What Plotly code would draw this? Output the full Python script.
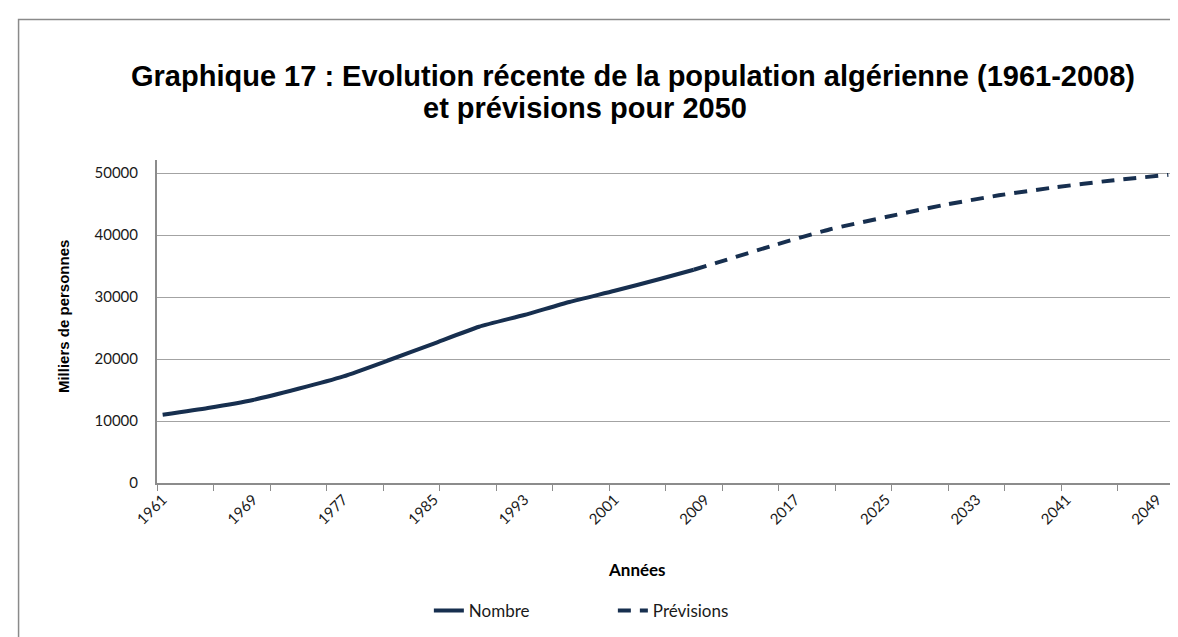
import plotly.graph_objects as go

# ---- data ----
hist_years = [1961, 1965, 1969, 1973, 1977, 1981, 1985, 1989, 1993, 1997, 2001, 2005, 2008]
hist_vals = [11000, 12100, 13400, 15200, 17200, 19800, 22500, 25200, 27100, 29200, 31000, 32900, 34400]

proj_years = [2008, 2010, 2015, 2020, 2025, 2030, 2035, 2040, 2045, 2050]
proj_vals = [34400, 35500, 38300, 40900, 42900, 44800, 46400, 47700, 48800, 49700]

xtick_years = [1961, 1969, 1977, 1985, 1993, 2001, 2009, 2017, 2025, 2033, 2041, 2049]
ytick_vals = [0, 10000, 20000, 30000, 40000, 50000]

title_line1 = "Graphique 17 : Evolution récente de la population algérienne (1961-2008)"
title_line2 = "et prévisions pour 2050"

LINE = "#172F4F"
GRID = "#a3a3a3"
AXIS = "#8c8c8c"
TICKFONT = dict(family="Lato, Open Sans, sans-serif", size=15, color="#1a1a1a")

W, H = 1178, 637
L, R, T, B = 149, 11.5, 152, 162
pw, ph = W - L - R, H - T - B


def px(xp):
    return (xp - L) / pw


def py(yp):
    return (H - B - yp) / ph


fig = go.Figure()
fig.add_trace(go.Scatter(
    x=hist_years, y=hist_vals, mode="lines", name="Nombre",
    line=dict(color=LINE, width=4, shape="spline", smoothing=0.5),
))
fig.add_trace(go.Scatter(
    x=proj_years, y=proj_vals, mode="lines", name="Prévisions",
    line=dict(color=LINE, width=4, dash="13px,9px", shape="spline", smoothing=0.5),
))

fig.update_layout(
    width=W, height=H,
    margin=dict(l=L, r=R, t=T, b=B),
    paper_bgcolor="white", plot_bgcolor="white",
    showlegend=True,
    legend=dict(
        orientation="h", x=px(421), xanchor="left", y=py(603), yanchor="middle",
        font=dict(family="Lato, Open Sans, sans-serif", size=17, color="#1a1a1a"),
        entrywidth=139, entrywidthmode="pixels", itemwidth=30,
        bgcolor="rgba(0,0,0,0)",
    ),
    xaxis=dict(
        range=[1960.5, 2050.5], tickmode="array", tickvals=xtick_years,
        ticktext=[str(y) for y in xtick_years], tickangle=-45,
        ticks="", showgrid=False, zeroline=False,
        showline=True, linecolor=AXIS, linewidth=2,
        tickfont=TICKFONT,
        minor=dict(tick0=1960.5, dtick=5, ticks="outside", ticklen=6,
                   tickcolor=AXIS, tickwidth=1, showgrid=False),
    ),
    yaxis=dict(
        range=[0, 52100], tickmode="array", tickvals=ytick_vals,
        ticktext=[str(v) for v in ytick_vals],
        showgrid=True, gridcolor=GRID, gridwidth=1, zeroline=False,
        showline=True, linecolor=AXIS, linewidth=2, ticks="",
        ticklabelstandoff=14, tickfont=TICKFONT,
    ),
)

# chart frame (partially visible border)
fig.add_shape(type="rect", xref="paper", yref="paper",
              x0=px(10.5), y0=py(11.5), x1=px(W + 20), y1=py(H + 20),
              line=dict(color="#8a8a8a", width=1.5), fillcolor="rgba(0,0,0,0)",
              layer="below")

TITLEFONT = dict(family="Liberation Sans, Arial, sans-serif", size=29, color="black")
fig.add_annotation(text="<b>" + title_line1 + "</b>", xref="paper", yref="paper",
                   x=px(625), y=py(68), xanchor="center", yanchor="middle",
                   showarrow=False, font=TITLEFONT)
fig.add_annotation(text="<b>" + title_line2 + "</b>", xref="paper", yref="paper",
                   x=px(577), y=py(100), xanchor="center", yanchor="middle",
                   showarrow=False, font=TITLEFONT)

fig.add_annotation(text="<b>Milliers de personnes</b>", xref="paper", yref="paper",
                   x=px(55), y=py(309), xanchor="center", yanchor="middle",
                   textangle=-90, showarrow=False,
                   font=dict(family="Liberation Sans, Arial, sans-serif", size=15, color="black"))

fig.add_annotation(text="<b>Années</b>", xref="paper", yref="paper",
                   x=px(629.5), y=py(561), xanchor="center", yanchor="middle",
                   showarrow=False,
                   font=dict(family="Lato, Open Sans, sans-serif", size=17, color="black"))

fig.write_html("out.html")
